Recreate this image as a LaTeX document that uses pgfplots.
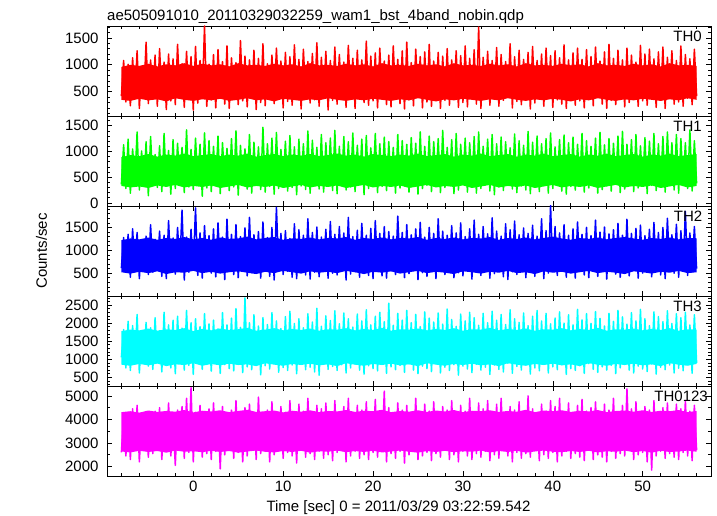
\documentclass[border=0pt]{standalone}
\usepackage{pgfplots}
\pgfplotsset{compat=1.18}
\usepackage{pgfplotstable}
\usepgfplotslibrary{fillbetween}
\usepackage{fontspec}
\setmainfont{Liberation Sans}
\definecolor{cR}{rgb}{1,0,0}
\definecolor{cG}{rgb}{0,1,0}
\definecolor{cB}{rgb}{0,0,1}
\definecolor{cC}{rgb}{0,1,1}
\definecolor{cM}{rgb}{1,0,1}

% light curves, 0.25 s steps
\pgfplotstableread{
t a b c d e
-8.00 420 360 610 1050 2600
-7.75 1080 1130 1280 1820 4100
-7.50 310 280 520 760 2450
-7.25 1010 1240 1350 2050 4300
-7.00 240 190 410 690 2300
-6.75 1130 1050 1470 1930 4450
-6.50 380 420 560 880 2700
-6.25 1260 1380 1390 2240 4600
-6.00 190 250 380 620 2200
-5.75 960 1010 1180 1760 3950
-5.50 450 330 640 940 2850
-5.25 1420 1190 1310 2020 4200
-5.00 280 140 470 810 2400
-4.75 1090 1290 1560 1870 4050
-4.50 360 400 520 720 2550
-4.25 1180 940 1240 2150 4350
-4.00 230 300 590 980 2750
-3.75 1300 1110 1420 1790 4500
-3.50 410 220 430 650 2300
-3.25 1050 1350 1330 2300 4150
-3.00 170 360 380 850 2650
-2.75 1200 1020 1650 1950 4700
-2.50 330 170 560 760 2450
-2.25 1110 1230 1270 2080 4000
-2.00 260 280 480 600 2050
-1.75 1380 1160 1500 2190 4400
-1.50 440 350 690 910 2800
-1.25 1020 1080 1880 1860 4550
-1.00 210 200 350 700 2350
-0.75 1250 1420 1290 2350 4900
-0.50 370 310 520 830 2600
-0.25 1150 1040 1460 2010 5350
0.00 160 260 610 580 2200
0.25 1340 1260 1930 2120 4300
0.50 290 380 450 940 2750
0.75 1080 1140 1380 1900 4600
1.00 400 130 390 720 2400
1.25 1720 1360 1540 2260 4150
1.50 230 290 570 860 2550
1.75 1010 1210 1320 1980 4450
2.00 350 220 500 670 2300
2.25 1190 1100 1470 2080 4700
2.50 200 340 420 920 2650
2.75 1280 1300 1600 1840 4250
3.00 450 180 610 610 1900
3.25 1060 1170 1290 2290 4550
3.50 270 400 360 850 2500
3.75 1350 1060 1680 1950 4050
4.00 190 240 540 740 2700
4.25 1130 1250 1350 2140 4400
4.50 380 310 470 680 2350
4.75 1040 1400 1560 2400 4800
5.00 260 150 400 890 2600
5.25 1450 1120 1300 1880 4150
5.50 330 370 580 630 2200
5.75 1160 1050 1490 2700 4500
6.00 220 270 440 790 2450
6.25 1090 1330 1720 2010 4650
6.50 410 190 510 710 2750
6.75 1270 1180 1340 2230 4300
7.00 170 350 620 860 2300
7.25 1120 1090 1410 1920 4950
7.50 300 260 390 570 2550
7.75 1390 1470 1620 2150 4200
8.00 240 210 560 820 2650
8.25 1020 1150 1280 1960 4400
8.50 360 320 430 730 2200
8.75 1180 1260 1500 2290 4750
9.00 280 170 350 900 2500
9.25 1310 1370 1940 2060 4100
9.50 430 280 600 640 2800
9.75 1070 1040 1370 1850 4550
10.00 200 360 470 770 2350
10.25 1230 1200 1430 2180 4300
10.50 320 230 540 690 2600
10.75 1150 1310 1260 2330 4800
11.00 250 300 410 840 2450
11.25 1370 1090 1580 1990 4200
11.50 390 160 380 600 2150
11.75 1100 1240 1450 2120 4650
12.00 180 330 580 880 2700
12.25 1290 1150 1330 1870 4350
12.50 420 260 460 710 2400
12.75 1060 1400 1690 2260 4900
13.00 290 190 370 780 2550
13.25 1210 1220 1390 2030 4250
13.50 350 350 520 650 2300
13.75 1410 1080 1510 2410 4600
14.00 230 270 420 560 2650
14.25 1140 1330 1290 1910 4450
14.50 400 210 610 860 2350
14.75 1250 1170 1460 2200 4700
15.00 160 380 390 720 2500
15.25 1080 1260 1630 2070 4150
15.50 340 240 500 800 2250
15.75 1330 1410 1350 2340 4800
16.00 270 180 460 690 2600
16.25 1190 1100 1520 1980 4300
16.50 380 340 570 850 2750
16.75 1050 1290 1380 2280 4550
17.00 210 250 350 620 2200
17.25 1360 1190 1720 2120 4900
17.50 440 310 480 760 2450
17.75 1120 1360 1300 1890 4250
18.00 190 220 530 870 2650
18.25 1270 1120 1440 2250 4600
18.50 360 370 410 700 2350
18.75 1090 1240 1590 2060 4400
19.00 300 160 600 590 2500
19.25 1440 1310 1330 2370 4750
19.50 250 280 450 820 2300
19.75 1160 1070 1480 1950 4150
20.00 330 350 380 740 2600
20.25 1220 1350 1650 2190 4850
20.50 200 200 560 680 2400
20.75 1310 1150 1370 2300 4300
21.00 410 320 440 880 2750
21.25 1070 1280 1520 2040 5200
21.50 260 240 390 610 2200
21.75 1180 1190 1410 2550 4500
22.00 220 370 550 790 2550
22.25 1350 1080 1310 1940 4250
22.50 390 190 470 710 2350
22.75 1100 1330 1750 2270 4700
23.00 280 290 620 830 2650
23.25 1260 1210 1390 2080 4400
23.50 180 330 400 640 2150
23.75 1420 1140 1560 2350 4600
24.00 350 210 490 870 2500
24.25 1040 1270 1340 2010 4300
24.50 240 360 580 700 2700
24.75 1290 1160 1470 2240 4900
25.00 420 170 360 600 2300
25.25 1150 1380 1610 1900 4200
25.50 200 280 510 810 2450
25.75 1240 1100 1290 2310 4650
26.00 310 340 430 740 2600
26.25 1380 1300 1500 2140 4350
26.50 230 220 600 660 2250
26.75 1070 1190 1370 2030 4750
27.00 370 390 380 890 2550
27.25 1230 1250 1690 2280 4200
27.50 190 200 540 620 2400
27.75 1160 1410 1420 1970 4550
28.00 340 300 470 780 2700
28.25 1300 1080 1330 2390 4400
28.50 250 360 590 690 2300
28.75 1090 1230 1540 2100 4800
29.00 400 180 400 850 2500
29.25 1260 1350 1380 1910 4250
29.50 210 250 510 560 2200
29.75 1170 1140 1600 2250 4600
30.00 300 370 440 810 2650
30.25 1350 1260 1300 2060 4350
30.50 220 210 570 730 2450
30.75 1120 1170 1470 2300 4900
31.00 380 330 370 630 2300
31.25 1280 1290 1660 2150 4200
31.50 270 190 520 860 2550
31.75 1700 1380 1350 1940 4700
32.00 190 280 450 700 2400
32.25 1140 1100 1520 2270 4450
32.50 420 350 600 780 2650
32.75 1250 1240 1360 2010 4800
33.00 250 230 390 580 2250
33.25 1080 1330 1710 2330 4300
33.50 360 160 490 840 2500
33.75 1320 1150 1420 2080 4650
34.00 230 310 560 720 2350
34.25 1190 1280 1310 2240 4900
34.50 340 240 420 650 2700
34.75 1060 1190 1580 1960 4250
35.00 410 370 360 890 2450
35.25 1390 1070 1450 2370 4550
35.50 200 270 530 610 2200
35.75 1150 1340 1640 2120 4400
36.00 320 200 470 800 2600
36.25 1270 1210 1340 2020 4750
36.50 260 330 590 700 2350
36.75 1100 1120 1490 2280 4300
37.00 390 250 400 840 2550
37.25 1230 1390 1370 1930 5000
37.50 180 180 560 590 2400
37.75 1340 1180 1550 2190 4450
38.00 290 360 430 760 2700
38.25 1080 1300 1310 2350 4200
38.50 370 220 610 680 2250
38.75 1200 1150 1690 2060 4650
39.00 230 340 380 870 2500
39.25 1310 1250 1430 2270 4350
39.50 410 190 500 620 2350
39.75 1170 1360 1980 1980 4800
40.00 210 280 540 790 2600
40.25 1260 1090 1520 2140 4550
40.50 350 370 450 710 2200
40.75 1130 1230 1380 2310 4900
41.00 270 230 600 850 2450
41.25 1370 1320 1560 2000 4300
41.50 190 170 410 580 2650
41.75 1090 1170 1330 2230 4700
42.00 380 320 520 740 2350
42.25 1220 1280 1470 1950 4250
42.50 250 250 390 690 2550
42.75 1310 1140 1620 2380 4600
43.00 330 380 570 820 2400
43.25 1100 1350 1350 2090 4850
43.50 200 210 460 610 2250
43.75 1280 1210 1500 2260 4350
44.00 360 290 400 880 2700
44.25 1150 1100 1320 1990 4500
44.50 240 350 580 720 2300
44.75 1330 1260 1660 2320 4750
45.00 410 190 430 640 2500
45.25 1070 1370 1400 2130 4200
45.50 270 260 550 790 2400
45.75 1240 1130 1510 1920 4650
46.00 190 330 370 700 2200
46.25 1380 1250 1360 2270 4400
46.50 340 230 600 830 2650
46.75 1120 1160 1450 2050 4900
47.00 260 370 480 600 2350
47.25 1270 1300 1590 2350 4300
47.50 390 200 410 760 2550
47.75 1090 1390 1330 2170 4600
48.00 220 270 530 860 2450
48.25 1310 1140 1680 1970 5300
48.50 300 350 440 700 2700
48.75 1180 1230 1370 2290 4450
49.00 400 220 590 620 2300
49.25 1050 1330 1480 2060 4750
49.50 230 290 390 810 2500
49.75 1360 1110 1550 2380 4250
50.00 330 380 500 730 2600
50.25 1200 1270 1320 2120 4550
50.50 250 180 570 660 2200
50.75 1290 1200 1460 1930 4400
51.00 370 340 420 870 1850
51.25 1110 1350 1610 2310 4800
51.50 210 240 540 590 2450
51.75 1240 1150 1390 2180 4300
52.00 350 310 460 780 2650
52.25 1330 1290 1500 2040 4500
52.50 190 210 380 710 2350
52.75 1140 1380 1700 2340 4700
53.00 400 360 590 840 2550
53.25 1260 1170 1340 1990 4250
53.50 270 250 500 620 2400
53.75 1080 1330 1570 2260 4650
54.00 310 190 410 750 2300
54.25 1350 1250 1430 2150 4450
54.50 230 340 560 680 2600
54.75 1190 1170 1850 2300 4800
55.00 380 280 450 860 2450
55.25 1110 1420 1380 1950 4350
55.50 260 230 530 610 2250
55.75 1290 1210 1520 2230 4600
56.00 420 380 600 900 2700
}\datatable

% dense core of each light curve (lower / upper edge), 1 s steps
\pgfplotstableread{
t aL aU bL bU cL cU dL dU eL eU
-8 350 960 330 890 520 1220 850 1780 2640 4310
-7 330 1000 300 930 490 1260 820 1820 2600 4350
-6 370 980 320 910 530 1240 870 1800 2670 4290
-5 340 1020 290 950 500 1280 830 1850 2620 4380
-4 360 970 340 900 540 1230 880 1790 2660 4320
-3 320 1010 310 940 480 1270 810 1830 2590 4360
-2 380 990 350 920 520 1250 860 1810 2680 4330
-1 350 1030 300 960 510 1290 840 1860 2630 4400
0 330 980 330 910 550 1240 890 1780 2650 4300
1 360 1020 310 930 500 1270 820 1840 2610 4370
2 340 990 340 950 530 1230 870 1800 2670 4340
3 370 1010 290 910 490 1280 830 1850 2620 4390
4 330 970 320 940 520 1250 880 1810 2660 4310
5 350 1030 350 920 540 1260 840 1830 2590 4360
6 380 990 300 960 510 1300 860 1870 2640 4410
7 340 1000 330 900 480 1240 810 1790 2680 4320
8 360 980 310 930 530 1270 890 1820 2630 4350
9 320 1020 340 950 500 1290 850 1860 2600 4380
10 370 990 290 910 550 1230 820 1800 2660 4300
11 350 1010 320 940 520 1260 870 1840 2620 4370
12 330 970 350 920 490 1250 840 1810 2670 4330
13 360 1030 300 950 540 1280 880 1850 2590 4390
14 340 990 330 910 510 1240 830 1790 2650 4310
15 380 1000 310 930 530 1270 860 1830 2630 4360
16 350 980 340 960 500 1260 810 1820 2680 4340
17 330 1020 290 920 550 1290 890 1860 2610 4400
18 360 990 320 940 520 1230 850 1800 2660 4320
19 340 1010 350 900 480 1270 820 1840 2620 4370
20 370 970 300 950 530 1250 870 1810 2670 4350
21 350 1030 330 930 510 1280 840 1870 2600 4410
22 330 990 310 910 540 1240 880 1790 2640 4310
23 360 1000 340 940 490 1270 830 1830 2680 4360
24 340 980 290 920 520 1260 860 1820 2630 4330
25 380 1020 320 960 550 1290 810 1850 2590 4390
26 350 990 350 910 500 1230 890 1800 2660 4320
27 320 1010 300 930 530 1270 850 1840 2620 4380
28 360 970 330 950 510 1250 820 1810 2670 4340
29 340 1030 310 900 480 1280 870 1860 2610 4400
30 370 990 340 940 540 1240 840 1790 2650 4310
31 350 1000 290 920 520 1270 880 1830 2630 4370
32 330 980 320 960 490 1260 830 1820 2680 4350
33 360 1020 350 910 530 1290 860 1870 2600 4390
34 340 990 300 930 510 1230 810 1800 2660 4320
35 380 1010 330 950 550 1270 890 1840 2620 4360
36 350 970 310 900 500 1250 850 1810 2670 4330
37 330 1030 340 940 520 1280 820 1850 2590 4410
38 360 990 290 920 480 1240 870 1790 2640 4310
39 340 1000 320 960 540 1270 840 1830 2680 4380
40 370 980 350 910 510 1300 880 1820 2630 4350
41 350 1020 300 930 530 1260 830 1860 2610 4390
42 320 990 330 950 490 1230 860 1800 2660 4320
43 360 1010 310 900 520 1270 810 1840 2620 4370
44 340 970 340 940 550 1250 890 1810 2670 4340
45 380 1030 290 920 500 1280 850 1870 2600 4400
46 350 990 320 960 530 1240 820 1790 2650 4310
47 330 1000 350 910 510 1270 870 1830 2630 4360
48 360 980 300 930 480 1290 840 1820 2680 4380
49 340 1020 330 950 540 1260 880 1850 2610 4330
50 370 990 310 900 520 1230 830 1800 2660 4390
51 350 1010 340 940 490 1270 860 1840 2590 4320
52 330 970 290 920 530 1250 810 1810 2670 4370
53 360 1030 320 960 510 1280 890 1860 2620 4350
54 340 990 350 910 550 1240 850 1790 2640 4400
55 380 1000 300 930 500 1270 820 1830 2680 4310
56 350 980 330 950 520 1260 870 1820 2630 4360
}\coretable

\pgfplotsset{
  panel/.style={
    scale only axis, width=604bp, height=90bp,
    xmin=-9.6, xmax=57.6,
    xtick={0,10,20,30,40,50},
    minor xtick={-8,-6,...,56},
    xticklabels={},
    tick pos=both, tick align=inside,
    major tick length=5bp, minor tick length=3bp,
    every tick/.style={black, line width=0.6pt},
    axis line style={black, line width=0.9pt},
    /pgf/number format/assume math mode=true,
    /pgf/number format/1000 sep={},
    tick label style={font=\fontsize{15bp}{18bp}\selectfont},
    yticklabel style={xshift=-5bp},
    xticklabel style={yshift=-2bp},
    anchor=south west,
  },
  series/.style={line width=1.5pt, line join=round},
}
\tikzset{lab/.style={anchor=north east, inner sep=0, font=\fontsize{15bp}{18bp}\selectfont}}

\begin{document}
\begin{tikzpicture}

\begin{axis}[panel, at={(0bp,360bp)}, ymin=50, ymax=1720,
  ytick={500,1000,1500}, minor ytick={100,200,...,1700}]
\addplot[draw=none, name path=loA] table[x=t, y=aL] {\coretable};
\addplot[draw=none, name path=hiA] table[x=t, y=aU] {\coretable};
\addplot[fill=cR, draw=none] fill between[of=loA and hiA];
\addplot[series, cR] table[x=t, y=a] {\datatable};
\node[lab] at (rel axis cs:1,1) [xshift=-9bp, yshift=-4.5bp] {TH0};
\end{axis}

\begin{axis}[panel, at={(0bp,270bp)}, ymin=-60, ymax=1690,
  ytick={0,500,1000,1500}, minor ytick={0,100,...,1600}]
\addplot[draw=none, name path=loB] table[x=t, y=bL] {\coretable};
\addplot[draw=none, name path=hiB] table[x=t, y=bU] {\coretable};
\addplot[fill=cG, draw=none] fill between[of=loB and hiB];
\addplot[series, cG] table[x=t, y=b] {\datatable};
\node[lab] at (rel axis cs:1,1) [xshift=-9bp, yshift=-4.5bp] {TH1};
\end{axis}

\begin{axis}[panel, at={(0bp,180bp)}, ymin=0, ymax=1970,
  ytick={500,1000,1500}, minor ytick={100,200,...,1900}]
\addplot[draw=none, name path=loC] table[x=t, y=cL] {\coretable};
\addplot[draw=none, name path=hiC] table[x=t, y=cU] {\coretable};
\addplot[fill=cB, draw=none] fill between[of=loC and hiC];
\addplot[series, cB] table[x=t, y=c] {\datatable};
\node[lab] at (rel axis cs:1,1) [xshift=-8.5bp, yshift=-4.5bp] {TH2};
\end{axis}

\begin{axis}[panel, at={(0bp,90bp)}, ymin=260, ymax=2750,
  ytick={500,1000,1500,2000,2500}, minor ytick={300,400,...,2700}]
\addplot[draw=none, name path=loD] table[x=t, y=dL] {\coretable};
\addplot[draw=none, name path=hiD] table[x=t, y=dU] {\coretable};
\addplot[fill=cC, draw=none] fill between[of=loD and hiD];
\addplot[series, cC] table[x=t, y=d] {\datatable};
\node[lab] at (rel axis cs:1,1) [xshift=-9bp, yshift=-4.5bp] {TH3};
\end{axis}

\begin{axis}[panel, at={(0bp,0bp)}, ymin=1600, ymax=5420,
  ytick={2000,3000,4000,5000}, minor ytick={2000,2500,...,5000},
  xticklabels={0,10,20,30,40,50}]
\addplot[draw=none, name path=loE] table[x=t, y=eL] {\coretable};
\addplot[draw=none, name path=hiE] table[x=t, y=eU] {\coretable};
\addplot[fill=cM, draw=none] fill between[of=loE and hiE];
\addplot[series, cM] table[x=t, y=e] {\datatable};
\node[lab] at (rel axis cs:1,1) [xshift=-3bp, yshift=-4.5bp] {TH0123};
\end{axis}

\node[anchor=base west, inner sep=0, font=\fontsize{15bp}{18bp}\selectfont]
  at (0bp,455bp) {ae505091010\_20110329032259\_wam1\_bst\_4band\_nobin.qdp};
\node[anchor=base, rotate=90, inner sep=0, font=\fontsize{15bp}{18bp}\selectfont]
  at (-60bp,225bp) {Counts/sec};
\node[anchor=base, inner sep=0, font=\fontsize{15bp}{18bp}\selectfont]
  at (291.5bp,-35.7bp) {Time [sec] 0 = 2011/03/29 03:22:59.542};
\path (-107bp,-40bp) rectangle (610bp,476bp);
\end{tikzpicture}
\end{document}
